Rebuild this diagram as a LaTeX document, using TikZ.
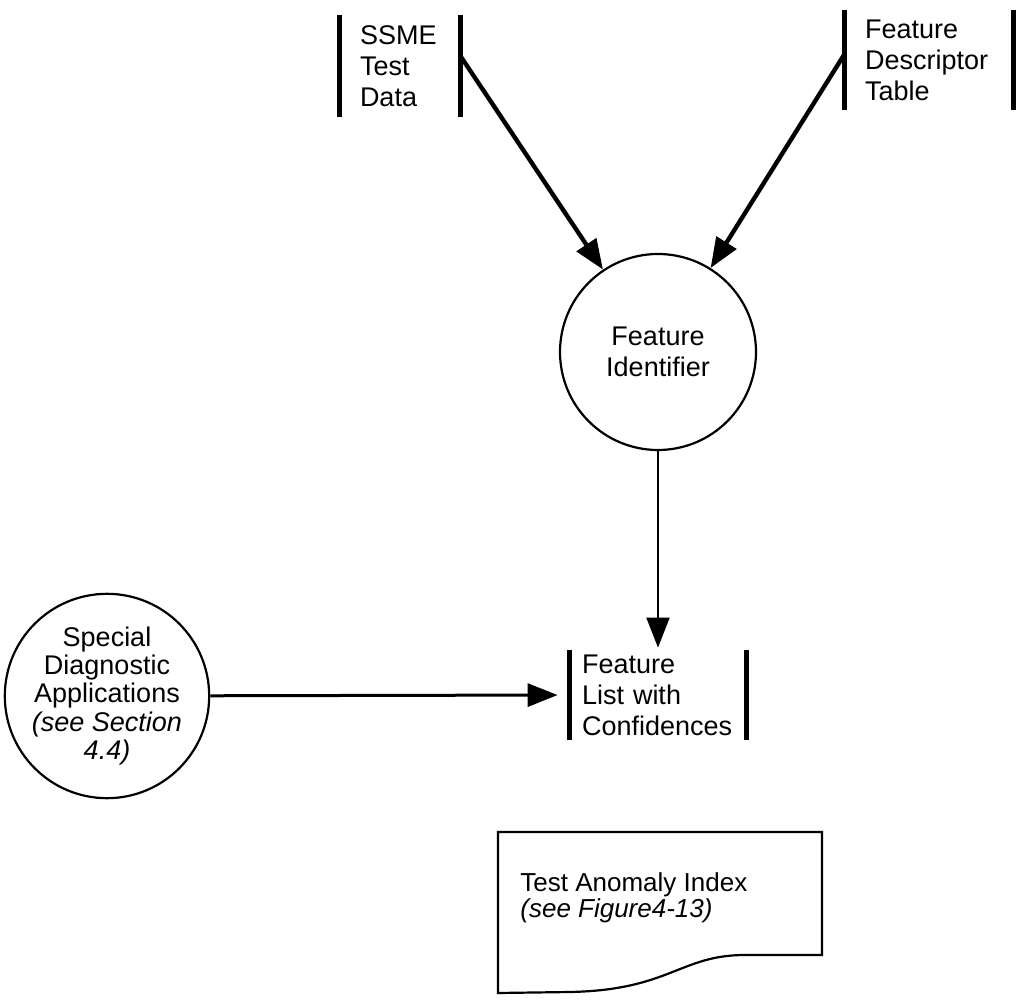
\documentclass[tikz,border=0pt]{standalone}
\usepackage{fontspec}
\setmainfont{Liberation Sans}
\usetikzlibrary{arrows.meta}

\tikzset{
    texto/.style={font=\fontsize{13.5}{15.5}\selectfont},
    almacen/.style={texto, align=left, inner xsep=10pt, inner ysep=0pt},
    barra/.style={line width=2.3pt},
    proceso/.style={texto, circle, draw, line width=1.1pt, align=center,
        minimum size=98pt, inner sep=0pt},
    flecha/.style={-{Triangle[length=15pt,width=11.5pt]}}
}

\begin{document}
\begin{tikzpicture}[x=0.5pt,y=-0.5pt]
    \useasboundingbox (0,0) rectangle (1017,1005);

    % Almacenes de datos
    \node[almacen, text width=40pt, minimum height=51pt] (ssme) at (400,66)
        {SSME\\Test\\Data};
    \node[almacen, text width=64pt, minimum height=50pt] (tabla) at (929,60)
        {Feature\\Descriptor\\Table};
    \node[almacen, text width=76pt, inner xsep=6pt, minimum height=45pt] (lista) at (658,695)
        {Feature\\List with\\Confidences};
    \foreach \n in {ssme,tabla,lista} {
        \draw[barra] (\n.north west) -- (\n.south west);
        \draw[barra] (\n.north east) -- (\n.south east);
    }

    % Procesos
    \node[proceso] (ident) at (658,352) {Feature\\Identifier};
    \node[proceso, font=\fontsize{13.5}{14.2}\selectfont] (especial) at (107,696)
        {Special\\Diagnostic\\Applications\\\textit{(see Section}\\\textit{4.4)}};

    % Flujos
    \draw[flecha, line width=2.2pt] ([yshift=5pt]ssme.east) -- (ident);
    \draw[flecha, line width=2.2pt] ([yshift=3pt]tabla.west) -- (ident);
    \draw[flecha, line width=1pt, shorten >=1pt] (ident) -- (lista);
    \draw[flecha, line width=1.5pt, shorten >=6pt] (especial) -- (lista.west);

    % Documento
    \draw[line width=1.1pt] (498,832) -- (822,832) -- (822,955) -- (745,955)
        .. controls (680,955) and (670,990) .. (570,992) -- (498,993) -- cycle;
    \node[anchor=west, align=left, inner sep=0pt, font=\fontsize{13}{11.5}\selectfont] (indice) at (520,898)
        {Test Anomaly Index\\\textit{(see Figure4-13)}};
\end{tikzpicture}
\end{document}
